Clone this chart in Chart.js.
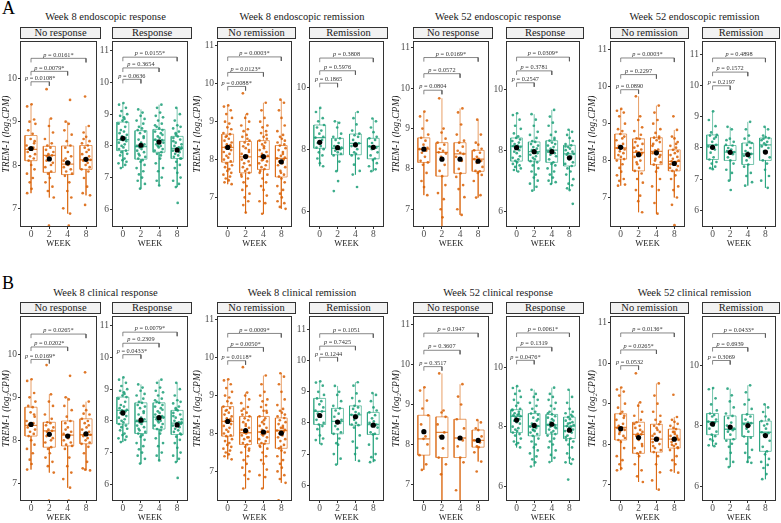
<!DOCTYPE html>
<html>
<head>
<meta charset="utf-8">
<script src="https://cdn.jsdelivr.net/npm/chart.js@4.4.0/dist/chart.umd.min.js"></script>
<style>
  body { margin: 0; background: #fff; font-family: "Liberation Serif", serif; }
  #wrap { position: relative; width: 781px; height: 523px; overflow: hidden; background: #fff; }
  canvas { position: absolute; }
  .title { position: absolute; width: 200px; font-size: 10.5px; color: #1a1a1a; text-align: center; white-space: nowrap; }
  .strip { position: absolute; box-sizing: border-box; border: 1px solid #333; background: #f2f2f2;
           font-size: 10.5px; line-height: 10px; text-align: center; color: #1a1a1a; white-space: nowrap; }
  .letter { position: absolute; font-size: 18px; color: #000; }
</style>
</head>
<body>
<div id="wrap"></div>
<script>
// ───────────────────────── datos
const weeks = ['0', '2', '4', '8'];
const panelTitles = [
  'Week 8 endoscopic response', 'Week 8 endoscopic remission',
  'Week 52 endoscopic response', 'Week 52 endoscopic remission',
  'Week 8 clinical response', 'Week 8 clinical remission',
  'Week 52 clinical response', 'Week 52 clinical remission'
];
const stripNames = [
  ['No response', 'Response'], ['No remission', 'Remission'],
  ['No response', 'Response'], ['No remission', 'Remission'],
  ['No response', 'Response'], ['No remission', 'Remission'],
  ['No response', 'Response'], ['No remission', 'Remission']
];

// caja por semana: [bigote inf, Q1, mediana, Q3, bigote sup]
// A1 – Week 8 endoscopic response
const a1nBox = [[7.35, 8.1, 8.36, 8.68, 9.4], [7.25, 7.83, 8.22, 8.43, 9.07], [6.88, 7.78, 8.02, 8.44, 9.0], [7.3, 7.9, 8.12, 8.45, 8.9]];
const a1nMean = [8.38, 8.14, 8.05, 8.13];
const a1nPts = [
  [9.4, 9.35, 9.05, 9.0, 8.95, 8.8, 8.72, 8.6, 8.55, 8.45, 8.4, 8.38, 8.35, 8.3, 8.25, 8.2, 8.15, 8.1, 8.0, 7.9, 7.8, 7.7, 7.6, 7.45, 7.35, 8.5],
  [9.75, 9.07, 8.9, 8.75, 8.6, 8.5, 8.45, 8.4, 8.35, 8.3, 8.25, 8.22, 8.2, 8.15, 8.05, 7.95, 7.85, 7.8, 7.7, 7.6, 7.5, 7.4, 7.25, 8.1, 8.0, 6.6],
  [9.5, 9.0, 8.95, 8.8, 8.7, 8.55, 8.45, 8.4, 8.3, 8.2, 8.1, 8.05, 8.02, 8.0, 7.95, 7.9, 7.85, 7.8, 7.75, 7.6, 7.4, 7.25, 7.0, 6.88, 8.15, 6.6],
  [9.58, 8.9, 8.75, 8.65, 8.55, 8.5, 8.45, 8.4, 8.3, 8.25, 8.2, 8.15, 8.12, 8.1, 8.05, 8.0, 7.95, 7.9, 7.85, 7.7, 7.5, 7.35, 7.3, 7.08, 8.35, 8.6]
];
const a1nBrk = [9.92, 10.16, 10.46];
const a1nP = ['0.0108*', '0.0079*', '0.0161*'];

const a1rBox = [[7.3, 7.85, 8.2, 8.75, 9.35], [6.65, 7.58, 7.98, 8.48, 9.15], [6.75, 7.8, 8.18, 8.52, 9.3], [6.7, 7.6, 7.92, 8.3, 9.2]];
const a1rMean = [8.24, 8.02, 8.12, 7.87];
const a1rPts = [
  [9.35, 9.3, 9.2, 9.1, 9.0, 8.95, 8.85, 8.8, 8.75, 8.7, 8.6, 8.5, 8.45, 8.4, 8.35, 8.3, 8.25, 8.2, 8.18, 8.15, 8.1, 8.05, 8.0, 7.95, 7.9, 7.85, 7.8, 7.75, 7.7, 7.6, 7.55, 7.5, 7.45, 7.4, 7.3, 8.9],
  [9.15, 9.05, 8.95, 8.85, 8.8, 8.7, 8.6, 8.55, 8.5, 8.45, 8.4, 8.3, 8.2, 8.1, 8.05, 8.0, 7.98, 7.95, 7.9, 7.85, 7.8, 7.7, 7.65, 7.6, 7.55, 7.5, 7.4, 7.3, 7.2, 7.1, 7.0, 6.9, 6.8, 6.65, 8.25, 7.75],
  [9.3, 9.2, 9.05, 8.95, 8.9, 8.8, 8.7, 8.6, 8.55, 8.5, 8.45, 8.4, 8.3, 8.25, 8.2, 8.18, 8.15, 8.1, 8.05, 8.0, 7.95, 7.9, 7.85, 7.8, 7.75, 7.6, 7.45, 7.3, 7.2, 7.0, 6.9, 6.75, 8.35, 8.65, 7.7, 8.0],
  [9.2, 9.0, 8.8, 8.65, 8.6, 8.55, 8.45, 8.35, 8.3, 8.25, 8.2, 8.1, 8.05, 8.0, 7.95, 7.92, 7.9, 7.85, 7.8, 7.75, 7.7, 7.65, 7.6, 7.5, 7.4, 7.3, 7.15, 7.0, 6.9, 6.8, 6.7, 6.2, 8.15, 7.6, 8.4, 7.95]
];
const a1rBrk = [10.1, 10.46, 10.8];
const a1rP = ['0.0636', '0.3654', '0.0155*'];

// A2 – Week 8 endoscopic remission
const a2nBox = [[7.35, 7.93, 8.32, 8.67, 9.43], [6.6, 7.65, 8.07, 8.48, 9.2], [6.57, 7.74, 8.08, 8.5, 9.5], [6.7, 7.54, 8.03, 8.37, 9.58]];
const a2nMean = [8.32, 8.08, 8.08, 7.94];
const a2nPts = [
  [9.43, 9.4, 9.3, 9.2, 9.1, 9.0, 8.95, 8.85, 8.8, 8.7, 8.67, 8.6, 8.55, 8.5, 8.45, 8.4, 8.35, 8.32, 8.3, 8.25, 8.2, 8.15, 8.1, 8.05, 8.0, 7.95, 7.9, 7.85, 7.8, 7.75, 7.7, 7.65, 7.6, 7.55, 7.5, 7.45, 7.4, 7.35, 8.62, 8.38],
  [9.75, 9.2, 9.1, 9.0, 8.9, 8.8, 8.75, 8.65, 8.6, 8.5, 8.45, 8.4, 8.35, 8.3, 8.2, 8.15, 8.1, 8.07, 8.05, 8.0, 7.95, 7.9, 7.85, 7.8, 7.75, 7.7, 7.65, 7.6, 7.5, 7.4, 7.3, 7.2, 7.1, 7.0, 6.9, 6.8, 6.6, 8.25, 7.55, 8.55],
  [9.5, 9.3, 9.1, 9.0, 8.9, 8.85, 8.75, 8.7, 8.6, 8.55, 8.5, 8.45, 8.4, 8.3, 8.25, 8.2, 8.15, 8.1, 8.08, 8.05, 8.0, 7.95, 7.9, 7.85, 7.8, 7.75, 7.7, 7.6, 7.5, 7.4, 7.3, 7.2, 7.05, 6.9, 6.85, 6.57, 8.35, 7.65, 8.65, 7.98],
  [9.58, 9.5, 9.3, 9.1, 8.9, 8.75, 8.65, 8.6, 8.55, 8.45, 8.4, 8.37, 8.3, 8.25, 8.2, 8.1, 8.05, 8.03, 8.0, 7.95, 7.9, 7.85, 7.8, 7.7, 7.6, 7.55, 7.5, 7.4, 7.3, 7.2, 7.1, 7.0, 6.9, 6.85, 6.75, 6.7, 6.2, 8.15, 7.65, 8.5]
];
const a2nBrk = [9.93, 10.3, 10.71];
const a2nP = ['0.0088*', '0.0123*', '0.0003*'];

const a2rBox = [[7.45, 8.03, 8.37, 8.78, 9.33], [7.29, 7.82, 8.03, 8.35, 8.9], [7.18, 7.82, 8.19, 8.49, 9.2], [7.29, 7.69, 8.09, 8.35, 8.99]];
const a2rMean = [8.22, 8.05, 8.14, 8.06];
const a2rPts = [
  [9.33, 9.2, 9.0, 8.9, 8.78, 8.7, 8.6, 8.5, 8.4, 8.37, 8.3, 8.2, 8.1, 8.05, 8.0, 7.9, 7.8, 7.7, 7.55, 7.45],
  [8.9, 8.85, 8.7, 8.5, 8.4, 8.35, 8.3, 8.2, 8.1, 8.05, 8.03, 8.0, 7.95, 7.9, 7.85, 7.8, 7.6, 7.29, 6.97, 6.65],
  [9.2, 9.0, 8.8, 8.6, 8.5, 8.45, 8.4, 8.3, 8.2, 8.19, 8.1, 8.0, 7.9, 7.85, 7.8, 7.7, 7.5, 7.3, 7.18, 6.78],
  [8.99, 8.9, 8.7, 8.55, 8.4, 8.35, 8.3, 8.2, 8.1, 8.09, 8.05, 8.0, 7.9, 7.8, 7.7, 7.65, 7.55, 7.45, 7.35, 7.29]
];
const a2rBrk = [10.13, 10.53, 10.94];
const a2rP = ['0.1865', '0.5976', '0.3808'];

// A3 – Week 52 endoscopic response
const a3nBox = [[7.35, 8.16, 8.49, 8.77, 9.42], [6.5, 7.82, 8.41, 8.65, 9.75], [6.86, 7.89, 8.37, 8.65, 9.5], [7.29, 7.94, 8.24, 8.46, 9.22]];
const a3nMean = [8.49, 8.24, 8.24, 8.19];
const a3nPts = [
  [9.42, 9.3, 9.2, 9.0, 8.85, 8.77, 8.7, 8.6, 8.52, 8.49, 8.45, 8.4, 8.3, 8.2, 8.16, 8.1, 7.9, 7.7, 7.55, 7.35],
  [9.75, 9.0, 8.9, 8.75, 8.65, 8.6, 8.5, 8.45, 8.41, 8.38, 8.3, 8.1, 7.95, 7.82, 7.6, 7.4, 7.25, 7.0, 6.8, 6.5],
  [9.5, 9.4, 9.1, 8.85, 8.7, 8.65, 8.55, 8.45, 8.4, 8.37, 8.3, 8.2, 8.0, 7.89, 7.8, 7.6, 7.5, 7.3, 7.0, 6.86],
  [9.22, 8.85, 8.65, 8.6, 8.5, 8.46, 8.4, 8.3, 8.25, 8.24, 8.2, 8.15, 8.05, 7.95, 7.94, 7.9, 7.85, 7.7, 7.35, 7.29]
];
const a3nBrk = [9.95, 10.36, 10.76];
const a3nP = ['0.0804', '0.0572', '0.0169*'];

const a3rBox = [[7.3, 7.64, 8.13, 8.4, 9.21], [6.67, 7.64, 7.95, 8.27, 9.18], [6.89, 7.6, 8.0, 8.31, 9.32], [6.69, 7.48, 7.88, 8.16, 8.67]];
const a3rMean = [8.08, 7.95, 7.95, 7.75];
const a3rPts = [
  [9.21, 9.15, 9.0, 8.8, 8.7, 8.55, 8.45, 8.4, 8.35, 8.3, 8.25, 8.2, 8.15, 8.13, 8.1, 8.05, 8.0, 7.95, 7.9, 7.8, 7.75, 7.7, 7.65, 7.6, 7.55, 7.5, 7.45, 7.4, 7.35, 7.3],
  [9.18, 9.0, 8.8, 8.6, 8.5, 8.4, 8.3, 8.27, 8.2, 8.15, 8.1, 8.05, 8.0, 7.95, 7.9, 7.85, 7.8, 7.75, 7.7, 7.64, 7.6, 7.5, 7.4, 7.3, 7.2, 7.1, 7.0, 6.9, 6.8, 6.67],
  [9.32, 9.1, 8.9, 8.8, 8.6, 8.5, 8.4, 8.31, 8.25, 8.2, 8.15, 8.1, 8.05, 8.0, 7.95, 7.9, 7.85, 7.8, 7.7, 7.6, 7.55, 7.5, 7.4, 7.3, 7.2, 7.1, 7.0, 6.95, 6.89, 8.35],
  [8.67, 8.6, 8.5, 8.4, 8.3, 8.2, 8.16, 8.1, 8.05, 8.0, 7.95, 7.9, 7.88, 7.85, 7.8, 7.7, 7.6, 7.55, 7.48, 7.4, 7.3, 7.2, 7.05, 6.9, 6.85, 6.75, 6.69, 6.24, 8.12, 7.75]
];
const a3rBrk = [10.21, 10.6, 11.05];
const a3rP = ['0.2547', '0.3781', '0.0309*'];

// A4 – Week 52 endoscopic remission
const a4nBox = [[7.32, 8.04, 8.34, 8.72, 9.4], [6.6, 7.72, 8.22, 8.59, 9.74], [6.56, 7.89, 8.25, 8.62, 9.49], [7.0, 7.72, 7.98, 8.29, 8.83]];
const a4nMean = [8.36, 8.16, 8.21, 7.92];
const a4nPts = [
  [9.4, 9.35, 9.3, 9.2, 9.0, 8.85, 8.8, 8.72, 8.65, 8.55, 8.45, 8.4, 8.35, 8.34, 8.3, 8.25, 8.2, 8.15, 8.1, 8.04, 8.0, 7.9, 7.8, 7.7, 7.6, 7.5, 7.45, 7.35, 7.32, 8.6],
  [9.74, 9.2, 9.1, 8.9, 8.8, 8.7, 8.6, 8.59, 8.5, 8.45, 8.4, 8.3, 8.25, 8.22, 8.2, 8.1, 8.0, 7.9, 7.8, 7.72, 7.65, 7.5, 7.4, 7.2, 7.05, 6.9, 6.6, 8.35, 8.15, 7.95],
  [9.49, 9.3, 9.1, 9.0, 8.85, 8.75, 8.65, 8.62, 8.55, 8.5, 8.4, 8.3, 8.28, 8.25, 8.2, 8.1, 8.0, 7.95, 7.89, 7.8, 7.7, 7.5, 7.3, 7.2, 6.85, 6.56, 8.45, 8.15, 8.05, 8.6],
  [9.2, 8.83, 8.65, 8.6, 8.5, 8.4, 8.35, 8.29, 8.2, 8.15, 8.1, 8.05, 8.0, 7.98, 7.95, 7.9, 7.85, 7.8, 7.75, 7.72, 7.6, 7.5, 7.3, 7.2, 7.0, 6.8, 6.25, 8.25, 7.9, 8.45]
];
const a4nBrk = [9.92, 10.33, 10.78];
const a4nP = ['0.0890', '0.2297', '0.0003*'];

const a4rBox = [[7.32, 7.63, 8.1, 8.42, 9.18], [6.95, 7.6, 7.87, 8.08, 8.68], [6.79, 7.47, 7.81, 8.16, 8.84], [6.72, 7.6, 8.1, 8.32, 8.68]];
const a4rMean = [8.02, 7.86, 7.79, 7.87];
const a4rPts = [
  [9.18, 8.9, 8.7, 8.5, 8.42, 8.4, 8.3, 8.2, 8.1, 8.05, 7.95, 7.85, 7.7, 7.63, 7.55, 7.5, 7.4, 7.35, 7.32, 8.35],
  [8.68, 8.6, 8.3, 8.2, 8.1, 8.08, 8.0, 7.95, 7.9, 7.87, 7.85, 7.8, 7.7, 7.6, 7.5, 7.3, 7.2, 6.95, 6.65, 8.25],
  [8.84, 8.6, 8.4, 8.3, 8.16, 8.1, 8.0, 7.9, 7.85, 7.81, 7.75, 7.7, 7.6, 7.47, 7.4, 7.2, 7.1, 6.9, 6.79, 8.2],
  [8.68, 8.6, 8.4, 8.35, 8.32, 8.25, 8.2, 8.15, 8.1, 8.05, 8.0, 7.9, 7.7, 7.6, 7.5, 7.3, 7.1, 6.95, 6.72, 8.3]
];
const a4rBrk = [10.0, 10.44, 10.89];
const a4rP = ['0.2197', '0.1572', '0.4898'];

// B1 – Week 8 clinical response
const b1nBox = [[7.32, 8.1, 8.35, 8.77, 9.42], [7.25, 7.84, 8.22, 8.42, 9.07], [6.9, 7.87, 8.12, 8.45, 9.0], [7.3, 7.92, 8.13, 8.5, 8.9]];
const b1nMean = [8.37, 8.14, 8.1, 8.15];
const b1nPts = [
  [9.42, 9.38, 9.1, 9.0, 8.9, 8.8, 8.77, 8.65, 8.55, 8.45, 8.4, 8.36, 8.35, 8.3, 8.25, 8.2, 8.15, 8.1, 8.0, 7.9, 7.8, 7.7, 7.55, 7.45, 7.32, 8.6],
  [9.75, 9.07, 8.9, 8.8, 8.6, 8.5, 8.42, 8.4, 8.35, 8.3, 8.25, 8.22, 8.2, 8.15, 8.05, 7.95, 7.84, 7.8, 7.7, 7.6, 7.5, 7.4, 7.25, 8.1, 8.0, 6.6],
  [9.5, 9.0, 8.95, 8.8, 8.7, 8.55, 8.45, 8.4, 8.3, 8.2, 8.15, 8.12, 8.1, 8.05, 8.0, 7.95, 7.9, 7.87, 7.8, 7.6, 7.4, 7.25, 7.1, 6.9, 8.25, 6.6],
  [9.58, 8.9, 8.8, 8.7, 8.6, 8.5, 8.45, 8.4, 8.3, 8.25, 8.2, 8.15, 8.13, 8.1, 8.05, 8.0, 7.95, 7.92, 7.85, 7.7, 7.5, 7.35, 7.3, 7.32, 8.35, 8.62]
];
const b1nBrk = [9.88, 10.17, 10.47];
const b1nP = ['0.0169*', '0.0202*', '0.0265*'];

const b1rBox = [[7.33, 7.9, 8.33, 8.75, 9.37], [6.65, 7.6, 7.98, 8.57, 9.15], [6.75, 7.74, 8.12, 8.57, 9.3], [6.7, 7.57, 7.93, 8.33, 9.2]];
const b1rMean = [8.25, 8.02, 8.1, 7.87];
const b1rPts = [
  [9.37, 9.3, 9.2, 9.1, 9.0, 8.95, 8.85, 8.8, 8.75, 8.7, 8.6, 8.5, 8.45, 8.4, 8.35, 8.33, 8.3, 8.25, 8.2, 8.15, 8.1, 8.05, 8.0, 7.95, 7.9, 7.85, 7.8, 7.75, 7.7, 7.6, 7.55, 7.5, 7.45, 7.4, 7.33, 8.9],
  [9.15, 9.05, 8.95, 8.85, 8.8, 8.7, 8.6, 8.57, 8.5, 8.45, 8.4, 8.3, 8.2, 8.1, 8.05, 8.0, 7.98, 7.95, 7.9, 7.85, 7.8, 7.7, 7.65, 7.6, 7.55, 7.5, 7.4, 7.3, 7.2, 7.1, 7.0, 6.9, 6.8, 6.65, 8.25, 7.75],
  [9.3, 9.2, 9.05, 8.95, 8.9, 8.8, 8.7, 8.6, 8.57, 8.5, 8.45, 8.4, 8.3, 8.25, 8.2, 8.15, 8.12, 8.1, 8.05, 8.0, 7.95, 7.9, 7.85, 7.8, 7.74, 7.6, 7.45, 7.3, 7.2, 7.0, 6.9, 6.75, 8.35, 8.65, 7.7, 8.0],
  [9.2, 9.0, 8.8, 8.65, 8.6, 8.55, 8.45, 8.35, 8.33, 8.25, 8.2, 8.1, 8.05, 8.0, 7.95, 7.93, 7.9, 7.85, 7.8, 7.75, 7.7, 7.65, 7.57, 7.5, 7.4, 7.3, 7.15, 7.0, 6.9, 6.8, 6.7, 6.2, 8.15, 7.6, 8.4, 7.95]
];
const b1rBrk = [10.09, 10.45, 10.8];
const b1rP = ['0.0433*', '0.2309', '0.0079*'];

// B2 – Week 8 clinical remission
const b2nBox = [[7.32, 7.93, 8.32, 8.71, 9.43], [6.55, 7.71, 8.02, 8.45, 9.08], [6.55, 7.73, 8.04, 8.45, 9.53], [6.7, 7.61, 8.08, 8.41, 9.59]];
const b2nMean = [8.32, 8.08, 8.04, 8.01];
const b2nPts = [
  [9.43, 9.4, 9.3, 9.2, 9.1, 9.0, 8.95, 8.85, 8.8, 8.71, 8.67, 8.6, 8.55, 8.5, 8.45, 8.4, 8.35, 8.32, 8.3, 8.25, 8.2, 8.15, 8.1, 8.05, 8.0, 7.95, 7.93, 7.85, 7.8, 7.75, 7.7, 7.65, 7.6, 7.55, 7.5, 7.45, 7.4, 7.32, 8.62, 8.38],
  [9.75, 9.08, 9.0, 8.9, 8.8, 8.7, 8.65, 8.55, 8.5, 8.45, 8.4, 8.35, 8.3, 8.2, 8.15, 8.1, 8.05, 8.02, 8.0, 7.95, 7.9, 7.85, 7.8, 7.75, 7.71, 7.65, 7.6, 7.5, 7.4, 7.3, 7.2, 7.1, 7.0, 6.9, 6.8, 6.55, 8.25, 7.55, 8.6, 7.9],
  [9.53, 9.3, 9.1, 9.0, 8.9, 8.85, 8.75, 8.7, 8.6, 8.55, 8.45, 8.4, 8.3, 8.25, 8.2, 8.15, 8.1, 8.05, 8.04, 8.0, 7.95, 7.9, 7.85, 7.8, 7.75, 7.73, 7.65, 7.6, 7.5, 7.4, 7.3, 7.2, 7.05, 6.9, 6.85, 6.55, 8.35, 7.68, 8.6, 7.98],
  [9.59, 9.5, 9.3, 9.1, 8.9, 8.75, 8.65, 8.6, 8.55, 8.45, 8.41, 8.35, 8.3, 8.25, 8.2, 8.15, 8.1, 8.08, 8.05, 8.0, 7.95, 7.9, 7.85, 7.8, 7.7, 7.61, 7.55, 7.5, 7.4, 7.3, 7.2, 7.1, 7.0, 6.9, 6.8, 6.7, 6.24, 8.15, 7.65, 8.5]
];
const b2nBrk = [9.92, 10.27, 10.64];
const b2nP = ['0.0118*', '0.0050*', '0.0009*'];

const b2rBox = [[7.32, 7.95, 8.37, 8.79, 9.34], [6.66, 7.65, 8.05, 8.47, 9.19], [6.78, 7.93, 8.26, 8.55, 9.31], [6.74, 7.63, 7.95, 8.34, 8.96]];
const b2rMean = [8.24, 8.03, 8.2, 7.93];
const b2rPts = [
  [9.34, 9.3, 9.2, 9.0, 8.9, 8.79, 8.7, 8.6, 8.5, 8.4, 8.37, 8.3, 8.2, 8.1, 8.0, 7.95, 7.9, 7.8, 7.6, 7.5, 7.45, 7.32],
  [9.19, 9.0, 8.9, 8.7, 8.55, 8.47, 8.4, 8.3, 8.2, 8.1, 8.05, 8.0, 7.9, 7.8, 7.7, 7.65, 7.5, 7.35, 7.3, 7.0, 6.85, 6.66],
  [9.31, 9.2, 8.95, 8.8, 8.7, 8.55, 8.5, 8.45, 8.35, 8.3, 8.26, 8.2, 8.1, 8.0, 7.95, 7.93, 7.85, 7.6, 7.4, 7.2, 7.0, 6.78],
  [8.96, 8.9, 8.7, 8.5, 8.4, 8.34, 8.25, 8.15, 8.05, 8.0, 7.95, 7.9, 7.85, 7.7, 7.65, 7.63, 7.5, 7.3, 7.0, 6.9, 6.8, 6.74]
];
const b2rBrk = [10.11, 10.47, 10.87];
const b2rP = ['0.1244', '0.7425', '0.1051'];

// B3 – Week 52 clinical response
const b3nBox = [[7.36, 7.73, 8.14, 8.73, 9.43], [6.5, 7.67, 8.3, 8.69, 9.78], [6.5, 7.67, 8.16, 8.63, 9.51], [7.57, 7.93, 8.1, 8.36, 8.61]];
const b3nMean = [8.32, 8.18, 8.16, 8.1];
const b3nPts = [
  [9.43, 9.35, 9.1, 8.9, 8.73, 8.5, 8.2, 8.14, 8.0, 7.73, 7.5, 7.36],
  [9.78, 8.85, 8.8, 8.69, 8.5, 8.3, 8.2, 7.9, 7.67, 7.5, 7.25, 6.5],
  [9.51, 9.2, 9.0, 8.63, 8.4, 8.16, 8.1, 7.95, 7.67, 7.55, 6.85, 6.5],
  [8.61, 8.55, 8.4, 8.36, 8.2, 8.1, 8.05, 7.95, 7.93, 7.8, 7.57, 7.32]
];
const b3nBrk = [9.95, 10.36, 10.79];
const b3nP = ['0.3517', '0.3607', '0.1947'];

const b3rBox = [[7.3, 7.8, 8.35, 8.57, 9.36], [6.66, 7.69, 8.02, 8.44, 9.24], [6.81, 7.75, 8.06, 8.41, 9.31], [6.75, 7.6, 8.02, 8.32, 9.24]];
const b3rMean = [8.22, 8.04, 8.08, 7.88];
const b3rPts = [
  [9.36, 9.3, 9.2, 9.1, 9.0, 8.9, 8.8, 8.7, 8.6, 8.57, 8.5, 8.45, 8.4, 8.38, 8.35, 8.3, 8.25, 8.2, 8.15, 8.1, 8.0, 7.95, 7.9, 7.85, 7.8, 7.75, 7.7, 7.6, 7.5, 7.45, 7.4, 7.3, 8.55, 8.42],
  [9.24, 9.1, 9.0, 8.9, 8.8, 8.7, 8.6, 8.5, 8.44, 8.4, 8.3, 8.2, 8.1, 8.05, 8.02, 8.0, 7.95, 7.9, 7.85, 7.8, 7.75, 7.69, 7.6, 7.5, 7.4, 7.3, 7.2, 7.1, 7.0, 6.9, 6.8, 6.66, 8.25, 7.88],
  [9.31, 9.1, 9.0, 8.9, 8.8, 8.7, 8.6, 8.5, 8.41, 8.35, 8.3, 8.2, 8.15, 8.1, 8.06, 8.05, 8.0, 7.95, 7.9, 7.85, 7.8, 7.75, 7.7, 7.6, 7.5, 7.4, 7.3, 7.2, 7.05, 6.95, 6.81, 8.25, 7.98, 8.45],
  [9.24, 9.0, 8.8, 8.6, 8.5, 8.45, 8.4, 8.32, 8.25, 8.2, 8.15, 8.1, 8.05, 8.02, 8.0, 7.95, 7.9, 7.85, 7.8, 7.7, 7.6, 7.55, 7.5, 7.4, 7.3, 7.1, 6.95, 6.9, 6.8, 6.75, 6.22, 8.12, 7.65, 8.35]
];
const b3rBrk = [10.23, 10.67, 11.15];
const b3rP = ['0.0476*', '0.1319', '0.0061*'];

// B4 – Week 52 clinical remission
const b4nBox = [[7.35, 8.1, 8.41, 8.75, 9.4], [7.06, 7.77, 8.24, 8.54, 9.03], [6.87, 7.8, 8.12, 8.49, 9.5], [7.29, 7.9, 8.12, 8.37, 8.67]];
const b4nMean = [8.38, 8.16, 8.12, 8.12];
const b4nPts = [
  [9.4, 9.35, 9.3, 9.2, 9.0, 8.9, 8.8, 8.75, 8.7, 8.6, 8.5, 8.45, 8.41, 8.4, 8.35, 8.3, 8.2, 8.1, 8.05, 7.9, 7.7, 7.6, 7.5, 7.4, 7.35, 8.65, 8.25, 8.15],
  [9.75, 9.03, 8.95, 8.8, 8.7, 8.6, 8.54, 8.45, 8.4, 8.3, 8.25, 8.24, 8.2, 8.1, 8.0, 7.9, 7.8, 7.77, 7.7, 7.5, 7.35, 7.2, 7.06, 6.57, 8.35, 8.15, 7.95, 8.5],
  [9.5, 9.2, 9.0, 8.8, 8.7, 8.6, 8.49, 8.45, 8.4, 8.3, 8.2, 8.15, 8.12, 8.1, 8.05, 8.0, 7.9, 7.85, 7.8, 7.7, 7.5, 7.3, 7.1, 6.87, 8.25, 8.35, 7.95, 8.55],
  [9.22, 8.67, 8.6, 8.55, 8.5, 8.45, 8.37, 8.3, 8.25, 8.2, 8.15, 8.12, 8.1, 8.05, 8.0, 7.95, 7.9, 7.85, 7.7, 7.6, 7.5, 7.35, 7.29, 8.4, 8.2, 7.98, 8.3, 7.92]
];
const b4nBrk = [9.94, 10.33, 10.75];
const b4nP = ['0.0532', '0.0265*', '0.0136*'];

const b4rBox = [[7.32, 7.7, 8.13, 8.4, 9.24], [6.63, 7.55, 7.88, 8.32, 9.22], [6.77, 7.64, 8.08, 8.37, 9.33], [6.23, 7.15, 7.78, 8.15, 8.7]];
const b4rMean = [8.05, 7.95, 8.0, 7.67];
const b4rPts = [
  [9.24, 9.2, 8.9, 8.7, 8.5, 8.4, 8.35, 8.3, 8.2, 8.13, 8.1, 8.05, 8.0, 7.9, 7.8, 7.7, 7.65, 7.55, 7.5, 7.4, 7.35, 7.32],
  [9.22, 9.0, 8.8, 8.6, 8.4, 8.32, 8.25, 8.1, 8.0, 7.9, 7.88, 7.85, 7.8, 7.7, 7.55, 7.5, 7.4, 7.3, 7.1, 6.9, 6.8, 6.63],
  [9.33, 9.1, 8.85, 8.7, 8.55, 8.37, 8.3, 8.2, 8.1, 8.08, 8.05, 8.0, 7.9, 7.8, 7.64, 7.6, 7.4, 7.2, 7.1, 6.95, 6.8, 6.77],
  [8.7, 8.6, 8.45, 8.3, 8.2, 8.15, 8.05, 8.0, 7.9, 7.78, 7.75, 7.7, 7.5, 7.3, 7.15, 7.05, 6.9, 6.8, 6.7, 6.6, 6.4, 6.23]
];
const b4rBrk = [10.15, 10.58, 11.04];
const b4rP = ['0.3069', '0.6939', '0.0433*'];

// ───────────────────────── tabla de facetas (orden: panel, lado)
const facets = [
  { box: a1nBox, mean: a1nMean, pts: a1nPts, brk: a1nBrk, p: a1nP, yr: [6.57, 10.86], yt: [7, 8, 9, 10] },
  { box: a1rBox, mean: a1rMean, pts: a1rPts, brk: a1rBrk, p: a1rP, yr: [5.44, 11.31], yt: [6, 7, 8, 9, 10, 11] },
  { box: a2nBox, mean: a2nMean, pts: a2nPts, brk: a2nBrk, p: a2nP, yr: [6.22, 11.13], yt: [7, 8, 9, 10, 11] },
  { box: a2rBox, mean: a2rMean, pts: a2rPts, brk: a2rBrk, p: a2rP, yr: [5.49, 11.49], yt: [6, 8, 10] },
  { box: a3nBox, mean: a3nMean, pts: a3nPts, brk: a3nBrk, p: a3nP, yr: [6.56, 11.17], yt: [7, 8, 9, 10, 11] },
  { box: a3rBox, mean: a3rMean, pts: a3rPts, brk: a3rBrk, p: a3rP, yr: [5.48, 11.58], yt: [6, 8, 10] },
  { box: a4nBox, mean: a4nMean, pts: a4nPts, brk: a4nBrk, p: a4nP, yr: [6.2, 11.24], yt: [7, 8, 9, 10, 11] },
  { box: a4rBox, mean: a4rMean, pts: a4rPts, brk: a4rBrk, p: a4rP, yr: [5.46, 11.44], yt: [6, 7, 8, 9, 10, 11] },
  { box: b1nBox, mean: b1nMean, pts: b1nPts, brk: b1nBrk, p: b1nP, yr: [6.59, 10.89], yt: [7, 8, 9, 10] },
  { box: b1rBox, mean: b1rMean, pts: b1rPts, brk: b1rBrk, p: b1rP, yr: [5.47, 11.31], yt: [6, 7, 8, 9, 10, 11] },
  { box: b2nBox, mean: b2nMean, pts: b2nPts, brk: b2nBrk, p: b2nP, yr: [6.22, 11.1], yt: [7, 8, 9, 10, 11] },
  { box: b2rBox, mean: b2rMean, pts: b2rPts, brk: b2rBrk, p: b2rP, yr: [5.49, 11.44], yt: [6, 7, 8, 9, 10, 11] },
  { box: b3nBox, mean: b3nMean, pts: b3nPts, brk: b3nBrk, p: b3nP, yr: [6.58, 11.22], yt: [7, 8, 9, 10, 11] },
  { box: b3rBox, mean: b3rMean, pts: b3rPts, brk: b3rBrk, p: b3rP, yr: [5.5, 11.72], yt: [6, 8, 10] },
  { box: b4nBox, mean: b4nMean, pts: b4nPts, brk: b4nBrk, p: b4nP, yr: [6.59, 11.17], yt: [7, 8, 9, 10, 11] },
  { box: b4rBox, mean: b4rMean, pts: b4rPts, brk: b4rBrk, p: b4rP, yr: [5.51, 11.62], yt: [6, 8, 10] }
];

// ───────────────────────── geometría de la figura
const colGeo = [
  { l1: 20,  r1: 100, l2: 112, r2: 191, lab: 19 },
  { l1: 217, r1: 295, l2: 309, r2: 387, lab: 25 },
  { l1: 413, r1: 492, l2: 506, r2: 583, lab: 22 },
  { l1: 610, r1: 688, l2: 702, r2: 779, lab: 23 }
];
const rowGeo = [
  { top: 38,  bottom: 227, title: 10,  letter: 'A', letterY: -2 },
  { top: 313, bottom: 501, title: 286, letter: 'B', letterY: 273 }
];
const colores = ['217,95,2', '27,158,119'];   // naranja / verde
const FONT = '"Liberation Serif", "Times New Roman", serif';
const HW = 0.33;                              // media anchura de caja
// desplazamiento horizontal fijo de los puntos (jitter)
const jitterPattern = [0.03, -0.21, 0.17, -0.08, 0.24, -0.15, 0.09, -0.02, 0.2, -0.24, 0.13, -0.11,
                       0.06, -0.18, 0.22, -0.05, 0.15, -0.13, 0.01, 0.19, -0.22, 0.1, -0.07];

const wrap = document.getElementById('wrap');

function addDiv (cls, text, css) {
  const d = document.createElement('div');
  d.className = cls;
  d.textContent = text;
  Object.assign(d.style, css);
  wrap.appendChild(d);
  return d;
}

// bordes del panel + texto de los p-valores
const facetDecor = {
  id: 'facetDecor',
  afterDatasetsDraw (chart, args, opts) {
    const { ctx, chartArea: a, scales: { x, y } } = chart;
    ctx.save();
    ctx.fillStyle = '#333';
    ctx.textBaseline = 'alphabetic';
    opts.brk.forEach((yv, j) => {
      const cx = (x.getPixelForValue(0) + x.getPixelForValue(j + 1)) / 2;
      const cy = y.getPixelForValue(yv) - 1.8;
      const rest = ' = ' + opts.p[j];
      ctx.font = 'italic 6.3px ' + FONT;
      const w1 = ctx.measureText('p').width;
      ctx.font = '6.3px ' + FONT;
      const w2 = ctx.measureText(rest).width;
      const x0 = cx - (w1 + w2) / 2;
      ctx.textAlign = 'left';
      ctx.font = 'italic 6.3px ' + FONT;
      ctx.fillText('p', x0, cy);
      ctx.font = '6.3px ' + FONT;
      ctx.fillText(rest, x0 + w1, cy);
    });
    ctx.strokeStyle = '#333';
    ctx.lineWidth = 1;
    ctx.strokeRect(a.left + 0.5, a.top + 0.5, a.right - a.left - 1, a.bottom - a.top - 1);
    ctx.restore();
  }
};

function buildDatasets (f, rgb, tip) {
  const pts = [], boxes = [], meds = [], whisk = [], brk = [];
  f.pts.forEach((arr, i) => arr.forEach((v, k) => {
    pts.push({ x: i + jitterPattern[(k + i * 5) % jitterPattern.length], y: v });
  }));
  f.box.forEach(([lo, q1, md, q3, hi], i) => {
    boxes.push({ x: i - HW, y: q1 }, { x: i + HW, y: q1 }, { x: i + HW, y: q3 },
               { x: i - HW, y: q3 }, { x: i - HW, y: q1 }, { x: i, y: null });
    meds.push({ x: i - HW, y: md }, { x: i + HW, y: md }, { x: i, y: null });
    whisk.push({ x: i, y: q3 }, { x: i, y: hi }, { x: i, y: null },
               { x: i, y: q1 }, { x: i, y: lo }, { x: i, y: null });
  });
  f.brk.forEach((yv, j) => {
    brk.push({ x: 0, y: yv - tip }, { x: 0, y: yv }, { x: j + 1, y: yv },
             { x: j + 1, y: yv - tip }, { x: 0, y: null });
  });
  const line = (data, color, width, order) => ({
    data, showLine: true, spanGaps: false, borderColor: color, borderWidth: width,
    pointRadius: 0, pointHitRadius: 0, order
  });
  return [
    { data: f.mean.map((m, i) => ({ x: i, y: m })), pointRadius: 2.6, backgroundColor: '#000',
      borderWidth: 0, order: 0 },
    { data: pts, pointRadius: 1.35, backgroundColor: `rgba(${rgb},0.85)`, borderWidth: 0, order: 1 },
    line(meds, `rgba(${rgb},0.75)`, 1.3, 2),
    line(boxes, `rgba(${rgb},0.6)`, 1, 3),
    line(whisk, `rgba(${rgb},0.6)`, 1, 3),
    line(brk, '#555', 0.7, 4)
  ];
}

// ───────────────────────── títulos y letras
panelTitles.forEach((t, pi) => {
  const row = rowGeo[Math.floor(pi / 4)], col = colGeo[pi % 4];
  addDiv('title', t, { left: ((col.l1 + col.r2) / 2 - 100) + 'px', top: (row.title + 1) + 'px' });
});
rowGeo.forEach(r => addDiv('letter', r.letter, { left: '2px', top: r.letterY + 'px' }));

// ───────────────────────── una gráfica por faceta
facets.forEach((f, n) => {
  const pi = Math.floor(n / 2), side = n % 2;
  const row = rowGeo[Math.floor(pi / 4)], col = colGeo[pi % 4];
  const L = side ? col.l2 : col.l1, R = side ? col.r2 : col.r1;
  const axisW = side ? 12 : col.lab;
  const xAxisH = 22;

  addDiv('strip', stripNames[pi][side], {
    left: L + 'px', top: (row.top - 11) + 'px', width: (R - L + 1) + 'px', height: '12px'
  });

  const c = document.createElement('canvas');
  const w = R - L + axisW + 1, h = row.bottom - row.top + 1 + xAxisH;
  c.width = w; c.height = h;
  Object.assign(c.style, { left: (L - axisW) + 'px', top: (row.top - 1) + 'px', width: w + 'px', height: h + 'px' });
  wrap.appendChild(c);

  const tip = (f.yr[1] - f.yr[0]) * 0.022;
  new Chart(c, {
    type: 'scatter',
    data: { datasets: buildDatasets(f, colores[side], tip) },
    options: {
      responsive: false,
      animation: false,
      devicePixelRatio: 1,
      events: [],
      layout: { padding: { top: 1, right: 1, left: 0, bottom: 0 } },
      plugins: {
        legend: { display: false },
        tooltip: { enabled: false },
        facetDecor: { brk: f.brk, p: f.p }
      },
      scales: {
        x: {
          type: 'linear', min: -0.6, max: 3.6,
          afterBuildTicks: s => { s.ticks = weeks.map((wk, i) => ({ value: i })); },
          afterFit: s => { s.height = xAxisH; s.paddingLeft = 0; s.paddingRight = 0; },
          ticks: { callback: v => weeks[v], font: { family: FONT, size: 9.5 }, color: '#4d4d4d',
                   padding: 0, maxRotation: 0, autoSkip: false },
          grid: { display: true, drawOnChartArea: false, drawTicks: true, tickLength: 2, color: '#333' },
          border: { display: false },
          title: { display: true, text: 'WEEK', font: { family: FONT, size: 8.5 }, color: '#1a1a1a', padding: 0 }
        },
        y: {
          type: 'linear', min: f.yr[0], max: f.yr[1],
          afterBuildTicks: s => { s.ticks = f.yt.map(v => ({ value: v })); },
          afterFit: s => { s.width = axisW; s.paddingTop = 0; s.paddingBottom = 0; },
          ticks: { font: { family: FONT, size: 9.5 }, color: '#4d4d4d', padding: 1 },
          grid: { display: true, drawOnChartArea: false, drawTicks: true, tickLength: 2, color: '#333' },
          border: { display: false },
          title: { display: side === 0, text: 'TREM-1 (log₂CPM)',
                   font: { family: FONT, size: 9.5, style: 'italic' }, color: '#1a1a1a', padding: 0 }
        }
      }
    },
    plugins: [facetDecor]
  });
});
</script>
</body>
</html>
